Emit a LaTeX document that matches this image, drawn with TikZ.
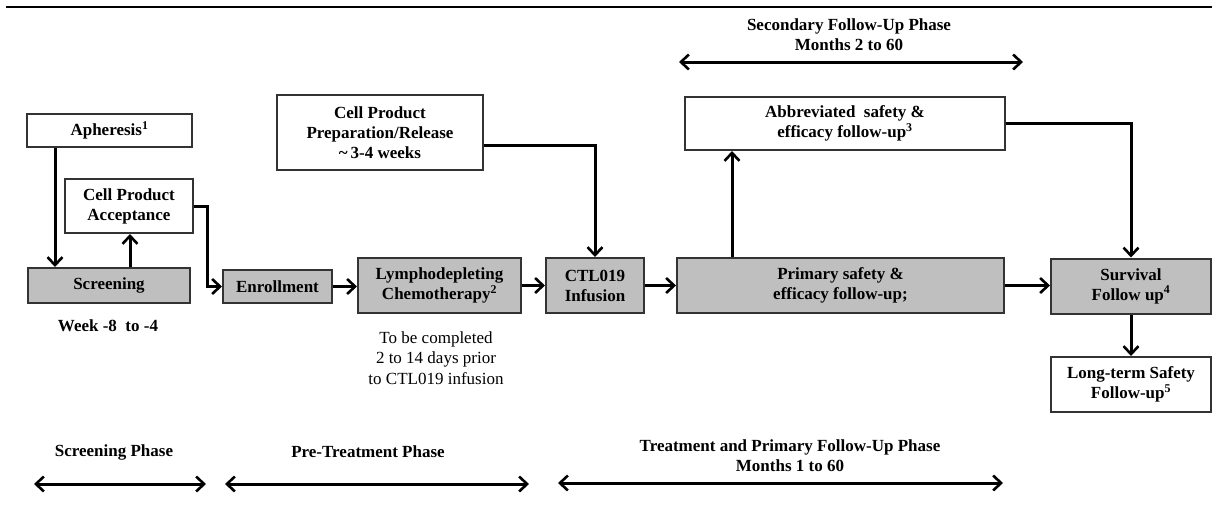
\documentclass[tikz,border=0pt]{standalone}
\usepackage{fontspec}
\setmainfont{Liberation Serif}
\usetikzlibrary{arrows.meta}
\definecolor{boxgray}{HTML}{BFBFBF}
\definecolor{edge}{HTML}{333333}
\tikzset{
  base/.style={draw=edge, line width=2pt, align=center, inner sep=0pt,
    font=\fontsize{17}{20}\selectfont\bfseries},
  wbox/.style={base, fill=white},
  gbox/.style={base, fill=boxgray},
  tip/.tip={Straight Barb[length=8pt,width=15pt,line width=2.6pt]},
  arr/.style={line width=3pt, -tip},
  darr/.style={line width=3pt, tip-tip},
  lbl/.style={align=center, inner sep=0pt, font=\fontsize{17}{20}\selectfont\bfseries},
  note/.style={align=center, inner sep=0pt, font=\fontsize{17}{20.5}\selectfont}
}
\begin{document}
\begin{tikzpicture}[x=1pt,y=-1pt]
\useasboundingbox (0,0) rectangle (1212,515);
\draw[line width=2pt] (6,7) -- (1212,7);

% boxes
\node[wbox, minimum width=165pt, minimum height=33pt] (aph) at (109.5,130.5) {Apheresis\textsuperscript{1}};
\node[wbox, minimum width=128pt, minimum height=54pt] (acc) at (129,206) {Cell Product\\Acceptance};
\node[gbox, minimum width=162pt, minimum height=35pt] (scr) at (109,285.5) {Screening};
\node[gbox, minimum width=109pt, minimum height=33pt] (enr) at (277.5,286.5) {Enrollment};
\node[gbox, minimum width=163pt, minimum height=55pt] (lym) at (439.5,285.5) {Lymphodepleting\\Chemotherapy\textsuperscript{2}};
\node[gbox, minimum width=98pt, minimum height=55pt] (ctl) at (595,285.5) {CTL019\\Infusion};
\node[gbox, minimum width=327pt, minimum height=55pt] (pri) at (840.5,285.5) {Primary safety \&\\efficacy follow-up;};
\node[gbox, minimum width=160pt, minimum height=55pt] (sur) at (1131,286) {Survival\\Follow up\textsuperscript{4}};
\node[wbox, minimum width=160pt, minimum height=55pt] (lts) at (1131,384.5) {Long-term Safety\\Follow-up\textsuperscript{5}};
\node[wbox, minimum width=206pt, minimum height=75pt] (prep) at (380,132.5) {Cell Product\\Preparation/Release\\\textasciitilde\,3-4 weeks};
\node[wbox, minimum width=320pt, minimum height=53pt] (abb) at (845,123.5) {Abbreviated\ \ safety \&\\efficacy follow-up\textsuperscript{3}};

% connectors
\draw[arr] (55,0 |- aph.south) -- (55,0 |- scr.north);
\draw[arr] (130,0 |- scr.north) -- (130,0 |- acc.south);
\draw[arr] (acc.east) -- (207,0 |- acc.east) |- (enr.west);
\draw[arr] (enr.east) -- (enr.east -| lym.west);
\draw[arr] (lym.east) -- (ctl.west);
\draw[arr] (ctl.east) -- (pri.west);
\draw[arr] (pri.east) -- (pri.east -| sur.west);
\draw[arr] (prep.east |- 0,145) -| (ctl.north);
\draw[arr] (732,0 |- pri.north) -- (732,0 |- abb.south);
\draw[arr] (abb.east) -| (sur.north);
\draw[arr] (sur.south) -- (lts.north);

% annotations
\node[lbl] (sec) at (849,35) {Secondary Follow-Up Phase\\Months 2 to 60};
\coordinate (s1) at (679,62); \coordinate (s2) at (1023,62);
\draw[darr] (s1) -- (s2);
\node[lbl] (wk) at (108,326) {Week -8\ \ to -4};
\node[note] (tbc) at (436,358) {To be completed\\2 to 14 days prior\\to CTL019 infusion};

\node[lbl] (p1) at (114,452) {Screening Phase};
\node[lbl] (p2) at (368,452) {Pre-Treatment Phase};
\node[lbl] (p3) at (790,456) {Treatment and Primary Follow-Up Phase\\Months 1 to 60};
\coordinate (a1) at (34,484); \coordinate (a2) at (206,484);
\coordinate (b1) at (225,484); \coordinate (b2) at (529,484);
\coordinate (c1) at (558,483); \coordinate (c2) at (1003,483);
\draw[darr] (a1) -- (a2);
\draw[darr] (b1) -- (b2);
\draw[darr] (c1) -- (c2);
\end{tikzpicture}
\end{document}
